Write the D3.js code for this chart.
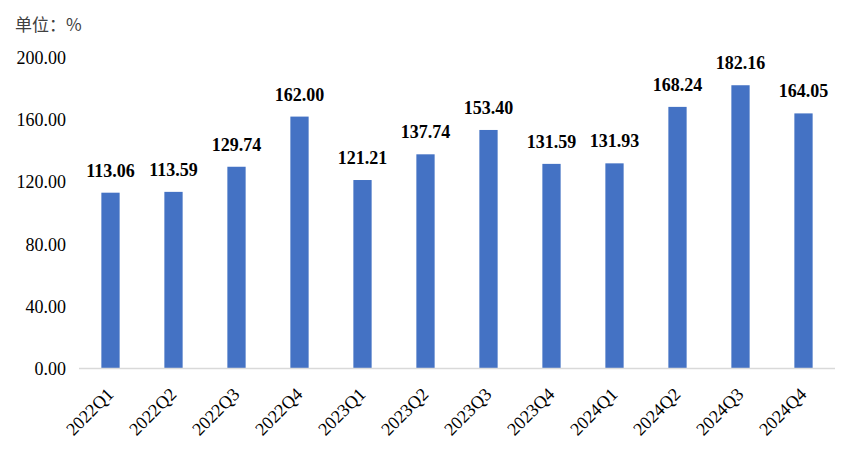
<!DOCTYPE html>
<html><head><meta charset="utf-8">
<script src="https://cdn.jsdelivr.net/npm/d3@7"></script>
<style>body{margin:0;background:#fff} .serif{font-family:"Liberation Serif","Times New Roman",serif !important}</style>
</head><body>
<svg id="c" width="852" height="454"></svg>
<script>
const categories = ["2022Q1","2022Q2","2022Q3","2022Q4","2023Q1","2023Q2","2023Q3","2023Q4","2024Q1","2024Q2","2024Q3","2024Q4"];
const values = [113.06,113.59,129.74,162.00,121.21,137.74,153.40,131.59,131.93,168.24,182.16,164.05];
const yTicks = [0,40,80,120,160,200];
const unitLabel = "单位：%";

(function(){
const svg = d3.select("#c");
const mLeft = 79, mRight = 835, mTop = 57.5, mBottom = 368.5;
const x = d3.scaleBand().domain(categories).range([mLeft, mRight]).paddingInner(0.71).paddingOuter(0.355);
const y = d3.scaleLinear().domain([0,200]).range([mBottom, mTop]);

svg.append("text").attr("x",15).attr("y",31).style("font-family","'Noto Sans CJK SC',sans-serif")
  .attr("font-size",17).attr("fill","#404040").text(unitLabel);

const ya = svg.append("g").attr("transform",`translate(${mLeft},0)`)
  .call(d3.axisLeft(y).tickValues(yTicks).tickFormat(d3.format(".2f")).tickSize(0).tickPadding(13));
ya.select(".domain").remove();
ya.selectAll("text").attr("class","serif").attr("font-size",18).attr("fill","#000").attr("dy","0.33em");

svg.selectAll("rect.bar").data(values).join("rect").attr("class","bar")
  .attr("x",(d,i)=>x(categories[i])).attr("width",x.bandwidth())
  .attr("y",d=>y(d)).attr("height",d=>mBottom-y(d)).attr("fill","#4472C4");

svg.append("line").attr("x1",mLeft).attr("x2",mRight).attr("y1",mBottom).attr("y2",mBottom)
  .attr("stroke","#d9d9d9").attr("stroke-width",1.5);

svg.selectAll("text.val").data(values).join("text").attr("class","val serif")
  .attr("x",(d,i)=>x(categories[i])+x.bandwidth()/2).attr("y",d=>y(d)-16)
  .attr("text-anchor","middle").attr("font-weight","bold")
  .attr("font-size",18).attr("fill","#000").text(d=>d.toFixed(2));

const xa = svg.append("g").attr("transform",`translate(0,${mBottom})`)
  .call(d3.axisBottom(x).tickSize(0).tickPadding(0));
xa.select(".domain").remove();
xa.selectAll("text").attr("class","serif").attr("font-size",18).attr("fill","#000")
  .attr("text-anchor","end").attr("dy",0)
  .attr("transform","translate(4,27) rotate(-45)");
})();
</script>
</body></html>
